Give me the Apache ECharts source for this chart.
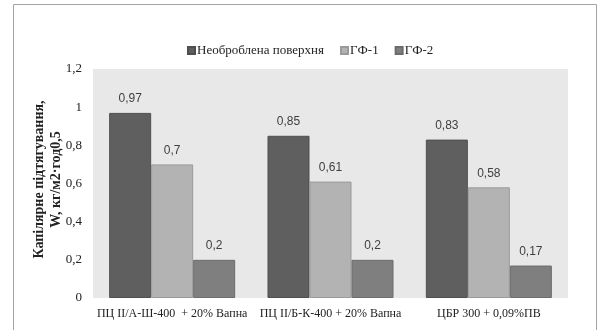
<!DOCTYPE html>
<html>
<head>
<meta charset="utf-8">
<script src="https://cdn.jsdelivr.net/npm/echarts@6/dist/echarts.min.js"></script>
<style>
  html, body { margin: 0; padding: 0; background: #ffffff; }
  #chart { width: 598px; height: 330px; }
</style>
</head>
<body>
<div id="chart"></div>
<script>
// Capillary absorption by surface treatment and binder composition
const categories = ['ПЦ ІІ/А-Ш-400  + 20% Вапна', 'ПЦ ІІ/Б-К-400 + 20% Вапна', 'ЦБР 300 + 0,09%ПВ'];
const seriesNames = ['Необроблена поверхня', 'ГФ-1', 'ГФ-2'];
const untreated = [0.97, 0.85, 0.83];
const gf1 = [0.7, 0.61, 0.58];
const gf2 = [0.2, 0.2, 0.17];
const yTicks = [0, 0.2, 0.4, 0.6, 0.8, 1, 1.2];

const colors = ['#5f5f5f', '#b3b3b3', '#7f7f7f'];
const borders = ['#4f4f4f', '#9a9a9a', '#6c6c6c'];
const serif = '"Liberation Serif", "DejaVu Serif", serif';
const sans = '"Liberation Sans", Arial, sans-serif';

const fmt = v => String(v).replace('.', ',');

const chart = echarts.init(document.getElementById('chart'), null, { renderer: 'canvas' });

function makeSeries(name, data, i) {
  return {
    name: name,
    type: 'bar',
    data: data,
    barWidth: 42,
    barGap: '0%',
    itemStyle: { color: colors[i], borderColor: borders[i], borderWidth: 1 },
    label: {
      show: true,
      position: 'top',
      distance: 8,
      color: '#404040',
      fontFamily: sans,
      fontSize: 12,
      formatter: p => fmt(p.value)
    },
    emphasis: { disabled: true }
  };
}

chart.setOption({
  animation: false,
  color: colors,
  graphic: [{
    type: 'rect',
    shape: { x: 13.5, y: 4.5, width: 583, height: 340 },
    style: { fill: 'none', stroke: '#a3a3a3', lineWidth: 1 },
    silent: true
  }],
  legend: {
    data: seriesNames,
    top: 39,
    left: 182,
    itemWidth: 7,
    itemHeight: 7,
    itemGap: 16,
    icon: 'rect',
    textStyle: { fontFamily: serif, fontSize: 13, color: '#222222', padding: [0, 0, 0, -3] }
  },
  grid: {
    left: 93,
    top: 69,
    right: 30,
    bottom: 32,
    show: true,
    backgroundColor: '#e8e8e8',
    borderWidth: 0
  },
  xAxis: {
    type: 'category',
    data: categories,
    axisLine: { show: false },
    axisTick: { show: false },
    axisLabel: {
      interval: 0,
      margin: 10,
      fontFamily: serif,
      fontSize: 12,
      color: '#222222'
    }
  },
  yAxis: {
    type: 'value',
    min: 0,
    max: 1.2,
    interval: 0.2,
    name: 'Капілярне підтягування,\nW, кг/м2·год0,5',
    nameLocation: 'middle',
    nameGap: 28,
    nameMoveOverlap: false,
    nameTextStyle: {
      fontFamily: serif,
      fontSize: 14,
      fontWeight: 'bold',
      color: '#222222',
      lineHeight: 17,
      padding: [0, 0, 0, 8]
    },
    splitLine: { show: false },
    axisLine: { show: false },
    axisTick: { show: false },
    axisLabel: {
      margin: 11,
      fontFamily: serif,
      fontSize: 13,
      color: '#222222',
      formatter: v => {
        const t = yTicks.find(x => Math.abs(x - v) < 1e-9);
        return fmt(t !== undefined ? t : Math.round(v * 10) / 10);
      }
    }
  },
  series: [
    makeSeries(seriesNames[0], untreated, 0),
    makeSeries(seriesNames[1], gf1, 1),
    makeSeries(seriesNames[2], gf2, 2)
  ]
});
</script>
</body>
</html>
